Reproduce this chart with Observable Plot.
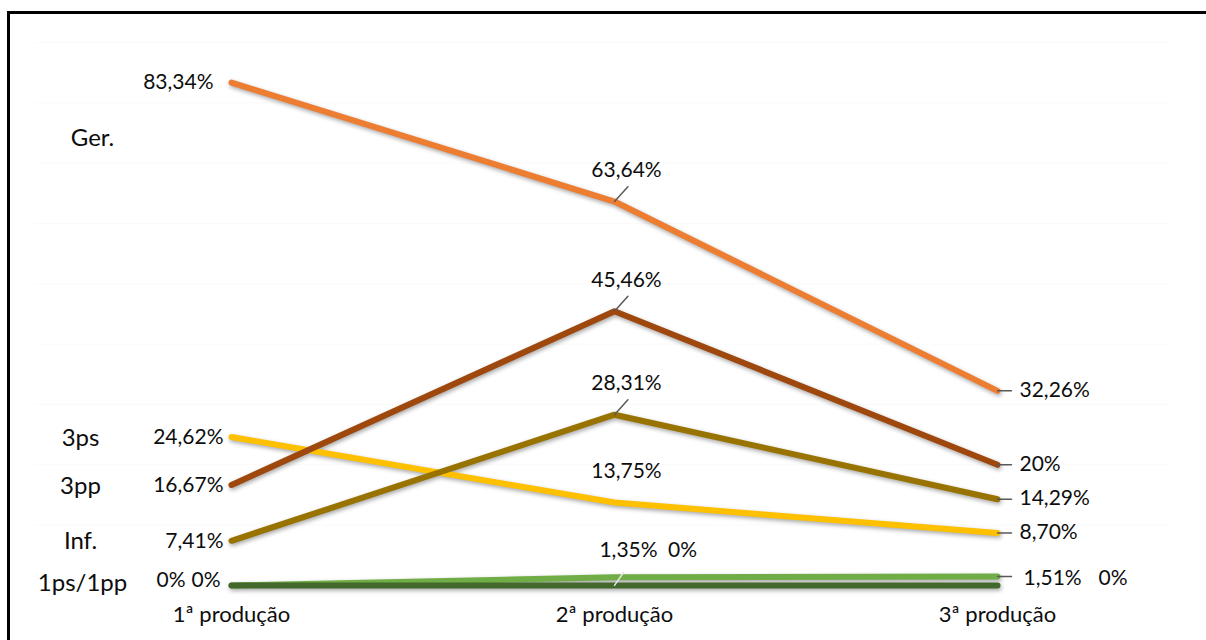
<!DOCTYPE html>
<html>
<head>
<meta charset="utf-8">
<script src="https://cdn.jsdelivr.net/npm/d3@7"></script>
<script src="https://cdn.jsdelivr.net/npm/@observablehq/plot@0.6"></script>
<style>
  html, body { margin: 0; padding: 0; background: #fff; }
  #wrap { position: relative; width: 1206px; height: 640px; overflow: hidden; background: #fff; }
  #border { position: absolute; left: 7px; top: 11px; width: 1230px; height: 660px; border: 3px solid #000; box-sizing: border-box; }
  #chart { position: absolute; left: 0; top: 0; }
  #chart g[aria-label="line"] { filter: drop-shadow(1px 2px 2px rgba(0,0,0,0.35)); }
</style>
</head>
<body>
<div id="wrap"><div id="border"></div><div id="chart"></div></div>
<script>
const categories = ["1ª produção", "2ª produção", "3ª produção"];
const seriesNames = ["3ps", "1ps", "1pp", "Inf.", "3pp", "Ger."];
const seriesColors = ["#FFC000", "#70AD47", "#43682B", "#997300", "#9E480E", "#ED7D31"];
const values3ps = [24.62, 13.75, 8.70];
const values1ps = [0, 1.35, 1.51];
const values1pp = [0, 0, 0];
const valuesInf = [7.41, 28.31, 14.29];
const values3pp = [16.67, 45.46, 20];
const valuesGer = [83.34, 63.64, 32.26];
const rowLabels = ["Ger.", "3ps", "3pp", "Inf.", "1ps/1pp"];
const rowLabelSeries = ["Ger.", "3ps", "3pp", "Inf.", "1ps"];
const gridTicks = [10, 20, 30, 40, 50, 60, 70, 80, 90];

const seriesValues = [values3ps, values1ps, values1pp, valuesInf, values3pp, valuesGer];
const fmt = v => (Number.isInteger(v) ? String(v) : v.toFixed(2).replace(".", ",")) + "%";

const rows = seriesNames.flatMap((s, si) =>
  categories.map((c, ci) => ({series: s, category: c, col: ci, value: seriesValues[si][ci], label: fmt(seriesValues[si][ci])}))
);
const labelRows = rowLabels.map((l, i) => {
  const si = seriesNames.indexOf(rowLabelSeries[i]);
  return {label: l, value: seriesValues[si][0], series: rowLabelSeries[i]};
});

const leader = {draw(context, l) { context.moveTo(0, 0); context.lineTo(0, -l); }};
const FONT = 21;
const ROWFONT = 24;
const INK = "#0d0d0d";
const big = ["Ger.", "3pp", "Inf.", "3ps"];

const marks = [
  Plot.ruleY(gridTicks, {stroke: "#fafafa", strokeWidth: 1, insetLeft: -195, insetRight: -172}),
  Plot.lineY(rows, {x: "category", y: "value", z: "series", stroke: "series", strokeWidth: 6, strokeLinecap: "round", strokeLinejoin: "round"}),
  Plot.vector(rows.filter(d => d.col === 1 && ["Ger.", "3pp", "Inf."].includes(d.series)),
    {x: "category", y: "value", length: 20, rotate: 42, anchor: "start", shape: leader, stroke: "#595959", strokeWidth: 1.5}),
  Plot.vector(rows.filter(d => d.col === 1 && d.series === "1ps"),
    {x: "category", y: "value", length: 16, rotate: 35, anchor: "start", shape: leader, stroke: "#e6e6e6", strokeWidth: 1.5, dy: 8}),
  Plot.vector(rows.filter(d => d.col === 2 && d.series !== "1pp"),
    {x: "category", y: "value", length: 14, rotate: 90, anchor: "start", shape: leader, stroke: "#595959", strokeWidth: 1.5}),
  // left column value labels
  Plot.text(rows.filter(d => d.col === 0 && d.series === "Ger."),
    {x: "category", y: "value", text: "label", textAnchor: "end", dx: -18, fontSize: FONT, fill: INK}),
  Plot.text(rows.filter(d => d.col === 0 && ["3pp", "Inf.", "3ps"].includes(d.series)),
    {x: "category", y: "value", text: "label", textAnchor: "end", dx: -8, fontSize: FONT, fill: INK}),
  Plot.text(rows.filter(d => d.col === 0 && d.series === "1ps"),
    {x: "category", y: "value", text: "label", textAnchor: "end", dx: -46, dy: -5, fontSize: FONT, fill: INK}),
  Plot.text(rows.filter(d => d.col === 0 && d.series === "1pp"),
    {x: "category", y: "value", text: "label", textAnchor: "end", dx: -11, dy: -5, fontSize: FONT, fill: INK}),
  // middle column value labels
  Plot.text(rows.filter(d => d.col === 1 && big.includes(d.series)),
    {x: "category", y: "value", text: "label", textAnchor: "middle", dx: 12, dy: -31, fontSize: FONT, fill: INK}),
  Plot.text(rows.filter(d => d.col === 1 && d.series === "1ps"),
    {x: "category", y: "value", text: "label", textAnchor: "middle", dx: 14, dy: -27, fontSize: FONT, fill: INK}),
  Plot.text(rows.filter(d => d.col === 1 && d.series === "1pp"),
    {x: "category", y: "value", text: "label", textAnchor: "middle", dx: 68, dy: -35, fontSize: FONT, fill: INK}),
  // right column value labels
  Plot.text(rows.filter(d => d.col === 2 && big.includes(d.series)),
    {x: "category", y: "value", text: "label", textAnchor: "start", dx: 22, dy: -1, fontSize: FONT, fill: INK}),
  Plot.text(rows.filter(d => d.col === 2 && d.series === "1ps"),
    {x: "category", y: "value", text: "label", textAnchor: "start", dx: 26, dy: 2, fontSize: FONT, fill: INK}),
  Plot.text(rows.filter(d => d.col === 2 && d.series === "1pp"),
    {x: "category", y: "value", text: "label", textAnchor: "start", dx: 101, dy: -7, fontSize: FONT, fill: INK}),
  // row labels at left
  Plot.text(labelRows.filter(d => d.label === "Ger."),
    {frameAnchor: "left", y: "value", text: "label", textAnchor: "middle", dx: -138, dy: 56, fontSize: ROWFONT, fill: INK}),
  Plot.text(labelRows.filter(d => d.label !== "Ger." && d.label !== "1ps/1pp"),
    {frameAnchor: "left", y: "value", text: "label", textAnchor: "middle", dx: -150, dy: 1, fontSize: ROWFONT, fill: INK}),
  Plot.text(labelRows.filter(d => d.label === "1ps/1pp"),
    {frameAnchor: "left", y: "value", text: "label", textAnchor: "middle", dx: -148, dy: -2, fontSize: ROWFONT, fill: INK})
];

const chart = Plot.plot({
  width: 1206,
  height: 640,
  marginLeft: 230,
  marginRight: 209,
  marginTop: 42,
  marginBottom: 55,
  style: {fontFamily: "Lato, sans-serif", fontSize: "22px", color: INK, background: "transparent"},
  x: {type: "point", domain: categories, padding: 0, tickSize: 0, tickPadding: 21, label: null},
  y: {domain: [0, 90], axis: null},
  color: {domain: seriesNames, range: seriesColors},
  marks
});
document.getElementById("chart").appendChild(chart);
</script>
</body>
</html>
